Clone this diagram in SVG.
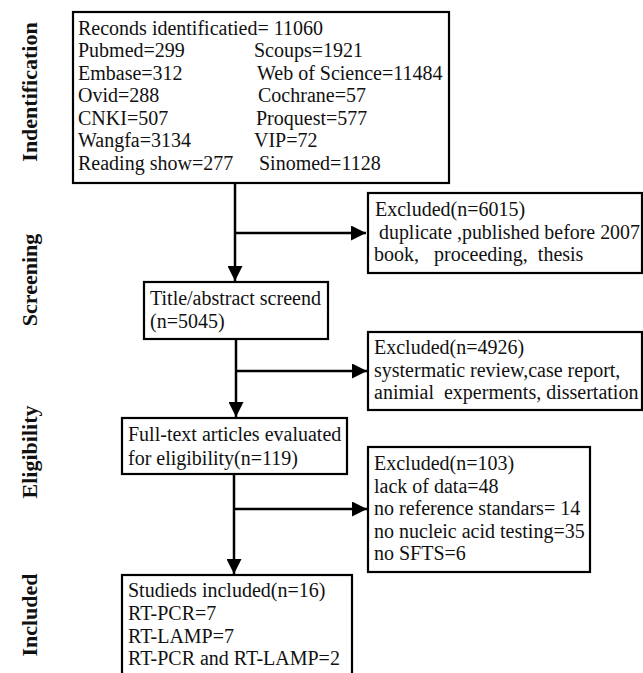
<svg xmlns="http://www.w3.org/2000/svg" width="643" height="673" viewBox="0 0 643 673">
<style>
.box{fill:#fff;stroke:#000;stroke-width:2.2}
.t{font-family:"Liberation Serif","Times New Roman",serif;font-size:20px;fill:#111;white-space:pre}
.side{font-family:"Liberation Serif","Times New Roman",serif;font-size:22px;font-weight:bold;fill:#111;text-anchor:middle}
.ln{stroke:#000;stroke-width:2.5;fill:none}
</style>
<defs>
<marker id="ah" markerWidth="15" markerHeight="15" refX="15" refY="7.5" orient="auto" markerUnits="userSpaceOnUse">
<path d="M0,0 L15,7.5 L0,15 Z" fill="#000"/>
</marker>
</defs>
<rect width="643" height="673" fill="#fff"/>
<g id="labels">
<text class="side" transform="translate(37,92) rotate(-90)">Indentification</text>
<text class="side" transform="translate(37,280) rotate(-90)">Screening</text>
<text class="side" transform="translate(37,452) rotate(-90)">Eligibility</text>
<text class="side" transform="translate(37,615) rotate(-90)">Included</text>
</g>
<g id="connectors">
<line class="ln" x1="235" y1="183" x2="235" y2="281" marker-end="url(#ah)"/>
<line class="ln" x1="235" y1="233" x2="366" y2="233" marker-end="url(#ah)"/>
<line class="ln" x1="236" y1="339" x2="236" y2="417" marker-end="url(#ah)"/>
<line class="ln" x1="236" y1="371" x2="367" y2="371" marker-end="url(#ah)"/>
<line class="ln" x1="234" y1="474" x2="234" y2="574" marker-end="url(#ah)"/>
<line class="ln" x1="234" y1="509" x2="367" y2="509" marker-end="url(#ah)"/>
</g>
<g id="records">
<rect class="box" x="73" y="12" width="376" height="171"/>
<text class="t" x="78" y="35">Reconds identificatied= 11060</text>
<text class="t" x="78" y="57">Pubmed=299</text>
<text class="t" x="254" y="57">Scoups=1921</text>
<text class="t" x="78" y="80">Embase=312</text>
<text class="t" x="257" y="80">Web of Science=11484</text>
<text class="t" x="78" y="102">Ovid=288</text>
<text class="t" x="258" y="102">Cochrane=57</text>
<text class="t" x="78" y="125">CNKI=507</text>
<text class="t" x="256" y="125">Proquest=577</text>
<text class="t" x="78" y="147">Wangfa=3134</text>
<text class="t" x="254" y="147">VIP=72</text>
<text class="t" x="78" y="170">Reading show=277</text>
<text class="t" x="259" y="170">Sinomed=1128</text>
</g>
<g id="excluded1">
<rect class="box" x="368" y="193" width="274" height="80"/>
<text class="t" x="375" y="216">Excluded(n=6015)</text>
<text class="t" x="379" y="239" textLength="261" lengthAdjust="spacingAndGlyphs">duplicate ,published before 2007</text>
<text class="t" x="374" y="261">book,   proceeding,  thesis</text>
</g>
<g id="screened">
<rect class="box" x="144" y="282" width="184" height="57"/>
<text class="t" x="150" y="305">Title/abstract screend</text>
<text class="t" x="150" y="328">(n=5045)</text>
</g>
<g id="excluded2">
<rect class="box" x="368" y="332" width="274" height="78"/>
<text class="t" x="374" y="354">Excluded(n=4926)</text>
<text class="t" x="374" y="377">systermatic review,case report,</text>
<text class="t" x="374" y="399">animial  experments, dissertation</text>
</g>
<g id="fulltext">
<rect class="box" x="122" y="418" width="225" height="56"/>
<text class="t" x="128" y="441">Full-text articles evaluated</text>
<text class="t" x="128" y="465">for eligibility(n=119)</text>
</g>
<g id="excluded3">
<rect class="box" x="368" y="447" width="222" height="125"/>
<text class="t" x="374" y="470">Excluded(n=103)</text>
<text class="t" x="374" y="493">lack of data=48</text>
<text class="t" x="374" y="515">no reference standars= 14</text>
<text class="t" x="374" y="538">no nucleic acid testing=35</text>
<text class="t" x="374" y="560">no SFTS=6</text>
</g>
<g id="included">
<rect class="box" x="122" y="575" width="230" height="110"/>
<text class="t" x="128" y="597">Studieds included(n=16)</text>
<text class="t" x="128" y="620">RT-PCR=7</text>
<text class="t" x="128" y="643">RT-LAMP=7</text>
<text class="t" x="128" y="665">RT-PCR and RT-LAMP=2</text>
</g>
</svg>
